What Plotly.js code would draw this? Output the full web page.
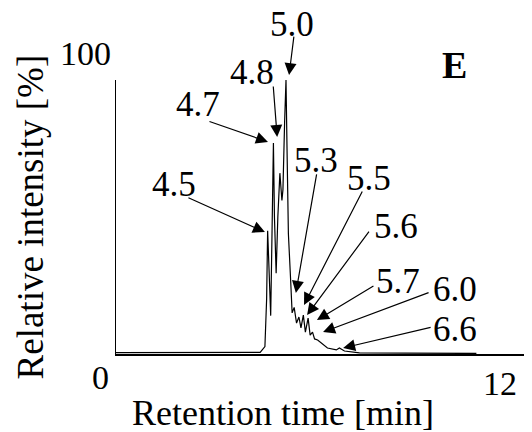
<!DOCTYPE html>
<html>
<head>
<meta charset="utf-8">
<script src="https://cdn.plot.ly/plotly-3.0.1.min.js"></script>
<style>html,body{margin:0;padding:0;background:#fff;}#chart{width:532px;height:432px;}</style>
</head>
<body>
<div id="chart"></div>
<script>
// Chromatogram (retention time in min, relative intensity in %)
var retentionTime = [0, 2, 4.0, 4.24, 4.38, 4.43, 4.46, 4.50, 4.55, 4.59, 4.63, 4.66, 4.71, 4.76, 4.82, 4.88, 4.91, 4.96, 5.00, 5.03, 5.07, 5.14, 5.18, 5.24, 5.31, 5.38, 5.44, 5.51, 5.57, 5.65, 5.71, 5.78, 5.84, 5.93, 6.04, 6.22, 6.48, 6.57, 6.72, 7.16, 8.5, 10.6];
var intensity     = [0.5, 0.5, 0.5, 0.6, 2.7, 20, 45, 30, 14, 45, 77, 50, 29.5, 50, 66, 56, 60, 85, 100, 75, 44, 26, 15, 17, 11.3, 13.5, 9.5, 14.2, 8, 13.1, 6.9, 8, 5.5, 5.1, 4, 2.2, 1.5, 2.2, 1.1, 0.4, 0.3, 0.2];

// Peak labels: text, arrow head (time, intensity), label centre (time, intensity), arrow tail offset (px)
var peakLabels = ['5.0', '4.8', '4.7', '4.5', '5.3', '5.5', '5.6', '5.7', '6.0', '6.6'];
var headTime   = [5.09, 4.74, 4.47, 4.38, 5.29, 5.53, 5.62, 5.91, 6.09, 6.68];
var headInt    = [101.8, 79.2, 77.4, 44.5, 22.3, 17.9, 14.2, 12.4, 8.0, 2.2];
var labelTime  = [5.18, 4.0, 2.41, 1.71, 5.88, 7.44, 8.24, 8.29, 9.97, 9.97];
var labelInt   = [120.4, 102.9, 90.9, 61.7, 70.8, 64.2, 46.7, 26.3, 23.7, 8.8];
var tailDx     = [5, -4, -60, -78, 21, 59, 63, 58, 107, 89];
var tailDy     = [-40, -52, -21, -35, -120, -115, -85, -35, -40, -21];

var xRange = [0, 12];
var yRange = [0, 100];
var xTickLabels = ['0', '12'];
var yTickLabels = ['0', '100'];
var xTitle = 'Retention time [min]';
var yTitle = 'Relative intensity [%]';
var panelLetter = 'E';

var serif = 'Liberation Serif, Times New Roman, serif';
function px(t) { return (t - xRange[0]) / (xRange[1] - xRange[0]); }
function py(v) { return (v - yRange[0]) / (yRange[1] - yRange[0]); }
function txt(t, v, s, size, extra) {
  var a = {x: px(t), y: py(v), xref: 'paper', yref: 'paper', text: s, showarrow: false,
           xanchor: 'center', yanchor: 'middle',
           font: {family: serif, size: size, color: '#000'}};
  if (extra) for (var k in extra) a[k] = extra[k];
  return a;
}

var annotations = [];
for (var i = 0; i < peakLabels.length; i++) {
  annotations.push({
    x: px(headTime[i]), y: py(headInt[i]), xref: 'paper', yref: 'paper',
    text: '', showarrow: true, ax: tailDx[i], ay: tailDy[i],
    arrowhead: 2, arrowsize: 2, arrowwidth: 1.2, arrowcolor: '#000', standoff: 0
  });
  annotations.push(txt(labelTime[i], labelInt[i], peakLabels[i], 35));
}
annotations.push(txt(-0.9, 109.5, yTickLabels[1], 34));
annotations.push(txt(-0.47, -8.4, xTickLabels[0], 34));
annotations.push(txt(11.3, -10.6, xTickLabels[1], 34));
annotations.push(txt(9.97, 105.5, '<b>' + panelLetter + '</b>', 38));
annotations.push(txt(4.91, -21.6, xTitle, 36));
annotations.push(txt(-2.53, 50.2, yTitle, 37, {textangle: -90}));

var layout = {
  width: 532, height: 432,
  margin: {l: 116, r: 8, t: 80, b: 78},
  paper_bgcolor: '#fff', plot_bgcolor: '#fff',
  showlegend: false,
  xaxis: {range: xRange, showgrid: false, zeroline: false, showticklabels: false, ticks: '',
          showline: true, linecolor: '#000', linewidth: 2},
  yaxis: {range: yRange, showgrid: false, zeroline: false, showticklabels: false, ticks: '',
          showline: true, linecolor: '#000', linewidth: 1.5},
  annotations: annotations
};

Plotly.newPlot('chart', [{
  x: retentionTime, y: intensity, type: 'scatter', mode: 'lines',
  line: {color: '#000', width: 1.2}, cliponaxis: false, hoverinfo: 'skip'
}], layout, {staticPlot: true});
</script>
</body>
</html>
